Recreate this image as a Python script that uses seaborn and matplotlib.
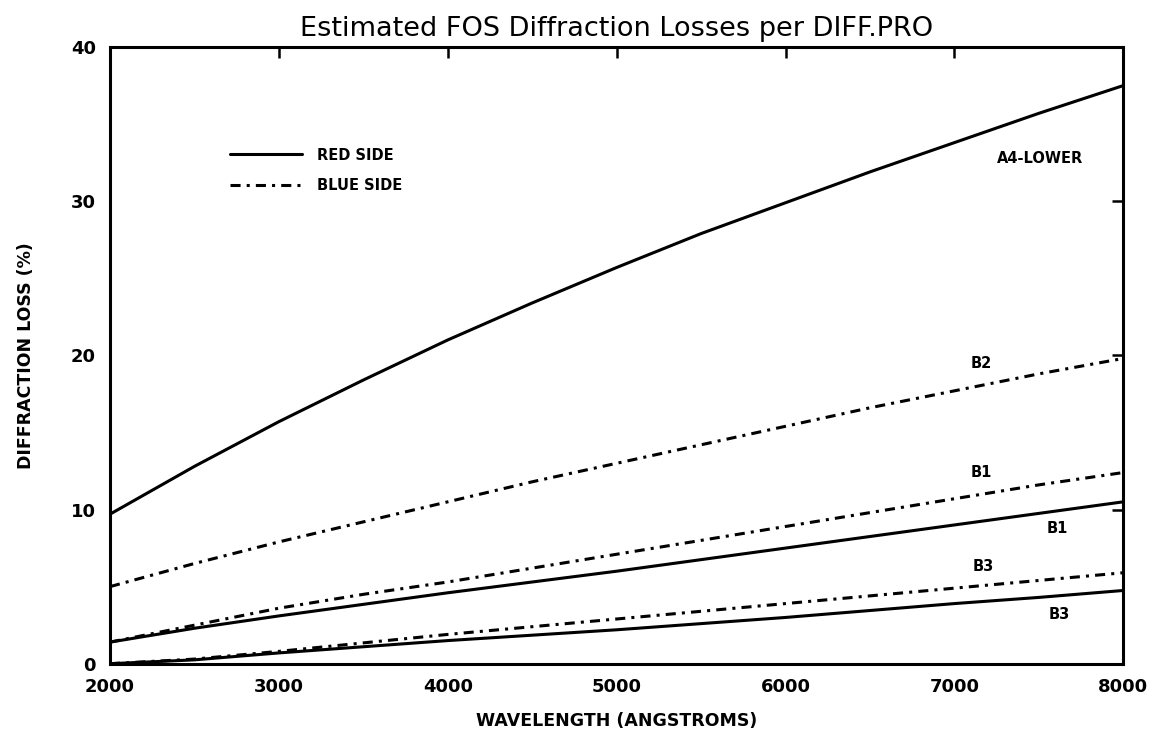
import matplotlib
matplotlib.use("Agg")
import matplotlib.pyplot as plt
from matplotlib.lines import Line2D
import pandas as pd
import seaborn as sns

# Wavelength grid (Angstroms) and diffraction losses (%) for each aperture
wavelength = [2000, 2500, 3000, 3500, 4000, 4500, 5000,
              5500, 6000, 6500, 7000, 7500, 8000]

a4_lower_red = [9.7, 12.8, 15.7, 18.4, 21.0, 23.4, 25.7,
                27.9, 29.9, 31.9, 33.8, 35.7, 37.5]
b2_blue = [5.0, 6.5, 7.9, 9.2, 10.5, 11.8, 13.0,
           14.2, 15.4, 16.6, 17.7, 18.8, 19.8]
b1_blue = [1.4, 2.5, 3.6, 4.5, 5.3, 6.2, 7.1,
           8.0, 8.9, 9.8, 10.7, 11.6, 12.4]
b1_red = [1.4, 2.3, 3.1, 3.85, 4.6, 5.3, 6.0,
          6.75, 7.5, 8.25, 9.0, 9.75, 10.5]
b3_blue = [0.0, 0.3, 0.8, 1.35, 1.9, 2.4, 2.9,
           3.4, 3.9, 4.4, 4.9, 5.4, 5.9]
b3_red = [0.0, 0.25, 0.7, 1.1, 1.5, 1.85, 2.2,
          2.6, 3.0, 3.45, 3.9, 4.3, 4.75]

curve_names = ["A4-LOWER", "B2", "B1", "B1", "B3", "B3"]
curve_sides = ["RED", "BLUE", "BLUE", "RED", "BLUE", "RED"]
curve_values = [a4_lower_red, b2_blue, b1_blue, b1_red, b3_blue, b3_red]

# Curve labels: (text, wavelength, loss)
label_text = ["A4-LOWER", "B2", "B1", "B1", "B3", "B3"]
label_x = [7510, 7160, 7160, 7610, 7170, 7620]
label_y = [32.8, 19.5, 12.4, 8.8, 6.3, 3.2]

x_ticks = [2000, 3000, 4000, 5000, 6000, 7000, 8000]
y_ticks = [0, 10, 20, 30, 40]

sns.set_theme(style="white")
plt.rcParams["font.family"] = ["DejaVu Sans"]

fig = plt.figure(figsize=(11.58, 7.35), dpi=100)
ax = fig.add_axes([0.095, 0.097, 0.875, 0.839])

solid = "-"
dashdot = (0, (3.3, 2.0, 1.0, 2.0))

for name, side, vals in zip(curve_names, curve_sides, curve_values):
    df = pd.DataFrame({"wavelength": wavelength, "loss": vals})
    sns.lineplot(data=df, x="wavelength", y="loss", ax=ax, color="black",
                 linewidth=2.2, linestyle=solid if side == "RED" else dashdot,
                 sort=True, errorbar=None)

for t, x, y in zip(label_text, label_x, label_y):
    ax.text(x, y, t, ha="center", va="center", fontsize=10.5,
            fontweight="bold", color="black")

ax.set_xlim(2000, 8000)
ax.set_ylim(0, 40)
ax.set_xticks(x_ticks)
ax.set_yticks(y_ticks)
ax.tick_params(axis="both", which="major", direction="in", length=8, width=1.8,
               top=True, right=True, labelsize=13, colors="black")
ax.tick_params(axis="x", pad=10)
ax.tick_params(axis="y", pad=10)
for lbl in ax.get_xticklabels() + ax.get_yticklabels():
    lbl.set_fontweight("bold")
for s in ax.spines.values():
    s.set_linewidth(2.2)
    s.set_color("black")

ax.set_xlabel("WAVELENGTH (ANGSTROMS)", fontsize=12.5, fontweight="bold",
              labelpad=12, color="black")
ax.set_ylabel("DIFFRACTION LOSS (%)", fontsize=12.5, fontweight="bold",
              labelpad=26, color="black")
ax.set_title("Estimated FOS Diffraction Losses per DIFF.PRO", fontsize=19.5,
             pad=8, color="black")

handles = [Line2D([], [], color="black", linewidth=2.2, linestyle=solid),
           Line2D([], [], color="black", linewidth=2.2, linestyle=dashdot)]
leg = ax.legend(handles, ["RED SIDE", "BLUE SIDE"], loc="upper left",
                bbox_to_anchor=(0.118, 0.837), frameon=False, handlelength=5.0,
                handletextpad=1.0, labelspacing=1.05, borderpad=0, borderaxespad=0,
                prop={"size": 10.5, "weight": "bold"})
for txt in leg.get_texts():
    txt.set_color("black")

fig.savefig("out.png", dpi=100, facecolor="white")
